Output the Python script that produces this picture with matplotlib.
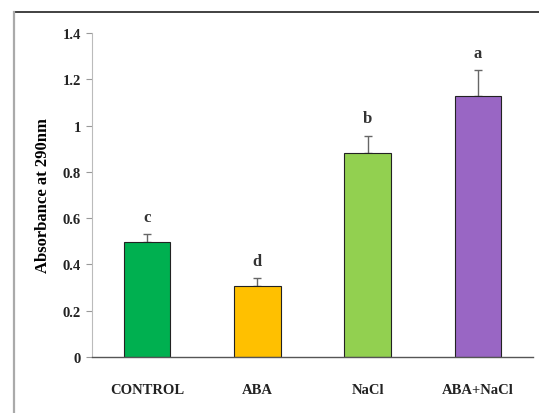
import matplotlib
matplotlib.use("Agg")
import matplotlib.pyplot as plt
from matplotlib.lines import Line2D

categories = ["CONTROL", "ABA", "NaCl", "ABA+NaCl"]
values = [0.496, 0.305, 0.882, 1.127]
errors = [0.034, 0.035, 0.075, 0.113]
letters = ["c", "d", "b", "a"]
colors = ["#00B050", "#FFC000", "#92D050", "#9966C4"]
yticks = [0, 0.2, 0.4, 0.6, 0.8, 1.0, 1.2, 1.4]
yticklabels = ["0", "0.2", "0.4", "0.6", "0.8", "1", "1.2", "1.4"]

plt.rcParams['font.family'] = ['Liberation Serif', 'DejaVu Serif']

W, H = 539, 414
fig = plt.figure(figsize=(W/100, H/100), dpi=100)

# outer frame lines
fig.add_artist(Line2D([14/W, 1.0], [1-13/H, 1-13/H], color="#333333", lw=1.3, transform=fig.transFigure))
fig.add_artist(Line2D([14/W, 14/W], [1-13/H, 0], color="#aaaaaa", lw=1.6, transform=fig.transFigure))

ax = fig.add_axes([92/W, 1-358/H, (533-92)/W, (358-34)/H])
x = [i + 0.5 for i in range(len(categories))]
ax.bar(x, values, width=0.42, color=colors, edgecolor="#222222", linewidth=0.8, zorder=2)
ax.errorbar(x, values, yerr=[[0]*len(errors), errors], fmt="none", ecolor="#666666",
            elinewidth=1.0, capsize=3, capthick=1.0, zorder=1)
for xi, v, e, l in zip(x, values, errors, letters):
    ax.text(xi, v + e + 0.04, l, ha="center", va="bottom", fontsize=12, fontweight="bold", color="#333333")

ax.set_xlim(0, 4)
ax.set_ylim(0, 1.4)
ax.set_yticks(yticks)
ax.set_yticklabels(yticklabels, fontsize=10.5, fontweight="bold", color="#222222")
ax.set_xticks(x)
ax.set_xticklabels(categories, fontsize=10.5, fontweight="bold", color="#222222")
ax.tick_params(axis="x", length=0, pad=19)
ax.tick_params(axis="y", length=4, color="#999999", pad=4)
for s in ["top", "right"]:
    ax.spines[s].set_visible(False)
ax.spines["left"].set_color("#bbbbbb")
ax.spines["bottom"].set_color("#555555")
ax.spines["bottom"].set_linewidth(1.0)
ax.set_ylabel("Absorbance at 290nm", fontsize=12, fontweight="bold", labelpad=8)

fig.savefig("out.png", dpi=100)
